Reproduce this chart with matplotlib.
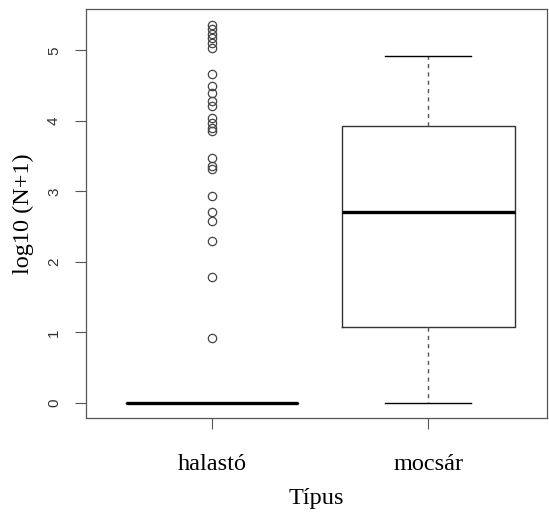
import matplotlib
matplotlib.use("Agg")
import matplotlib.pyplot as plt

# groups
categories = ["halastó", "mocsár"]

# halastó: everything at 0 apart from the outliers
halasto_outliers = [0.92, 1.78, 2.30, 2.58, 2.70, 2.94, 3.32, 3.36, 3.47,
                    3.86, 3.90, 3.97, 4.04, 4.21, 4.28, 4.39, 4.49, 4.66,
                    5.03, 5.10, 5.17, 5.23, 5.30, 5.36]

# mocsár box stats: whislo, q1, med, q3, whishi
mocsar_stats = [0.0, 1.08, 2.70, 3.92, 4.92]

y_ticks = [0, 1, 2, 3, 4, 5]

stats = [
    dict(label=categories[0], whislo=0.0, q1=0.0, med=0.0, q3=0.0, whishi=0.0,
         fliers=halasto_outliers),
    dict(label=categories[1], whislo=mocsar_stats[0], q1=mocsar_stats[1],
         med=mocsar_stats[2], q3=mocsar_stats[3], whishi=mocsar_stats[4],
         fliers=[]),
]

fig = plt.figure(figsize=(5.49, 5.12), dpi=100)
ax = fig.add_axes([86 / 549, 1 - 418 / 512, (547 - 86) / 549, (418 - 9) / 512])

edge = "#333333"
ax.bxp(stats, positions=[1, 2], widths=0.8, showfliers=True,
       boxprops=dict(color=edge, linewidth=1.0),
       whiskerprops=dict(color="#555555", linewidth=1.0, linestyle=(0, (3, 3))),
       capprops=dict(color="black", linewidth=1.0),
       medianprops=dict(color="black", linewidth=2.4),
       flierprops=dict(marker="o", markerfacecolor="none",
                       markeredgecolor="#444444", markersize=6,
                       markeredgewidth=0.9))

ax.set_xlim(0.417, 2.55)
ax.set_ylim(-0.215, 5.585)

ax.set_yticks(y_ticks)
ax.set_yticklabels([str(t) for t in y_ticks], rotation=90, va="center",
                   fontfamily="Liberation Sans", fontsize=11, color="#333333")
ax.set_xticks([1, 2])
ax.set_xticklabels(categories, fontfamily="Liberation Serif", fontsize=17.5)
ax.tick_params(axis="y", length=8, width=0.8, color="#555555", pad=10)
ax.tick_params(axis="x", length=8, width=0.8, color="#555555", pad=18)

for s in ax.spines.values():
    s.set_color("#555555")
    s.set_linewidth(0.9)

ax.set_xlabel("Típus", fontfamily="Liberation Serif", fontsize=17.5, labelpad=9)
ax.set_ylabel("log10 (N+1)", fontfamily="Liberation Serif", fontsize=17.5,
              labelpad=9)

fig.savefig("out.png", dpi=100)
